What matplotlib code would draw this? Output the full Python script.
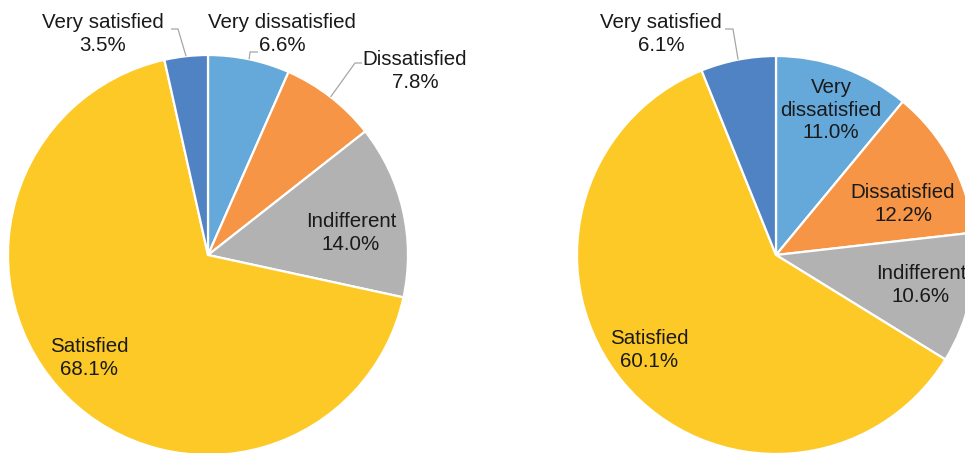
import numpy as np
import matplotlib
matplotlib.use("Agg")
import matplotlib.pyplot as plt

plt.rcParams['font.family'] = ['Liberation Sans', 'DejaVu Sans']

categories = ["Very dissatisfied", "Dissatisfied", "Indifferent", "Satisfied", "Very satisfied"]
left_values = [6.6, 7.8, 14.0, 68.1, 3.5]
right_values = [11.0, 12.2, 10.6, 60.1, 6.1]
colors = ["#65A9DB", "#F69546", "#B2B2B2", "#FDC926", "#5083C4"]

W, H = 965, 453
fig = plt.figure(figsize=(W / 100, H / 100), dpi=100)
ax = fig.add_axes([0, 0, 1, 1])

def Y(y):
    return H - y

FS = 14.8
TXT = "#1a1a1a"
LINE = "#a6a6a6"

def draw(values, cx, cy, r, label_pos, label_text, leaders):
    wedges, _ = ax.pie(values, colors=colors, startangle=90, counterclock=False,
                       center=(cx, Y(cy)), radius=r,
                       wedgeprops=dict(edgecolor="white", linewidth=1.6))
    for i, w in enumerate(wedges):
        x, y = label_pos[i]
        ax.text(x, Y(y), label_text[i], ha="center", va="center", fontsize=FS,
                color=TXT, linespacing=1.25)
        if i in leaders:
            mid = np.deg2rad((w.theta1 + w.theta2) / 2)
            px = cx + r * np.cos(mid)
            py = Y(cy) + r * np.sin(mid)
            pts = leaders[i]
            xs = [px] + [p[0] for p in pts]
            ys = [py] + [Y(p[1]) for p in pts]
            ax.plot(xs, ys, color=LINE, lw=0.9, solid_capstyle="butt")

def fmt(c, v):
    return f"{c}\n{v:.1f}%"

left_text = [fmt(c, v) for c, v in zip(categories, left_values)]
left_pos = [(282, 34), (415, 71), (351, 233), (89, 358), (103, 34)]
draw(left_values, 208, 255, 200, left_pos, left_text,
     {0: [(250, 52), (258, 52)], 1: [(355, 63), (362, 63)], 4: [(178, 29), (171, 29)]})

right_text = [fmt(c, v) for c, v in zip(categories, right_values)]
right_text[0] = f"Very\ndissatisfied\n{right_values[0]:.1f}%"
right_pos = [(831, 110), (903, 204), (921, 285), (649, 350), (661, 34)]
draw(right_values, 776, 255, 199, right_pos, right_text,
     {4: [(733, 29), (725, 29)]})

ax.set_xlim(0, W)
ax.set_ylim(0, H)
ax.set_aspect("equal")
ax.axis("off")
fig.savefig("out.png", dpi=100, facecolor="white")
